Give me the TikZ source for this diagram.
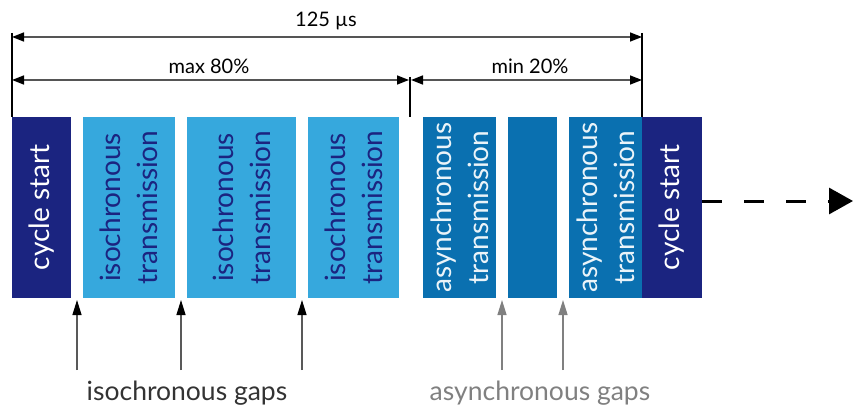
\documentclass[tikz,border=0pt]{standalone}
\usepackage{fontspec}
\setmainfont{Lato}
\usepackage{tikz}
\usetikzlibrary{arrows.meta, positioning}
\definecolor{navy}{RGB}{27,36,128}
\definecolor{isoblue}{RGB}{54,168,221}
\definecolor{asyblue}{RGB}{10,112,176}
\definecolor{dimgray}{RGB}{85,85,85}

\tikzset{
  slot/.style={rotate=90, inner sep=0pt, align=center, minimum width=181pt,
    font=\fontsize{28}{37}\selectfont},
  cyc/.style={slot, fill=navy, text=white},
  iso/.style={slot, fill=isoblue, text=navy},
  asy/.style={slot, fill=asyblue, text=white!92!asyblue},
  dim/.style={dimgray, line width=1.6pt, {Triangle[length=12pt,width=9pt,black]}-{Triangle[length=12pt,width=9pt,black]}},
  isogap/.style={black!65, line width=1.3pt, -{Triangle[length=15pt,width=9pt,black]}},
  asygap/.style={black!50, line width=1.3pt, -{Triangle[length=15pt,width=9pt]}}
}

\begin{document}
\begin{tikzpicture}[x=1pt,y=-1pt]
		\useasboundingbox (0,0) rectangle (853,409);
		
		% frame slots
		\node[cyc, minimum height=59pt] (cs1) at (41.5,207.5) {cycle start};
		\node[iso, minimum height=92pt] (iso1) at (129,207.5) {isochronous\\transmission};
		\node[iso, minimum height=109pt] (iso2) at (241.5,207.5) {isochronous\\transmission};
		\node[iso, minimum height=91pt] (iso3) at (353.5,207.5) {isochronous\\transmission};
		\node[asy, minimum height=73pt] (as1) at (459.5,207.5) {asynchronous\\transmission};
		\node[asy, minimum height=49pt] (as2) at (532.5,207.5) {};
		\node[asy, minimum height=73pt] (as3) at (605.5,207.5) {asynchronous\\transmission};
		\node[cyc, minimum height=60pt] (cs2) at (672,207.5) {cycle start};
		
		% dimension lines
		\draw[line width=1.3pt] (12,33) -- (12,117);
		\draw[line width=1.3pt] (642,33) -- (642,117);
		\draw[line width=1.3pt] (410,77) -- (410,117);
		\draw[dim] (12,37) -- (642,37);
		\draw[dim] (12,80) -- (409,80);
		\draw[dim] (411,80) -- (642,80);
		\node[font=\fontsize{20}{24}\selectfont] (period) at (326,21) {125 µs};
		\node[font=\fontsize{20}{24}\selectfont] (maxiso) at (209,66) {max 80\%};
		\node[font=\fontsize{20}{24}\selectfont] (minasy) at (530,66) {min 20\%};
		
		% next cycle
		\coordinate (next) at (853,201);
		\draw[line width=3pt, dash pattern=on 20pt off 22pt, -{Triangle[length=24pt,width=26pt]}] (cs2.south |- next) -- (next);
		
		% gaps
		\node[font=\fontsize{26.5}{30}\selectfont, text=black!80] (isogaps) at (187,393) {isochronous gaps};
		\node[font=\fontsize{26.5}{30}\selectfont, text=black!50] (asygaps) at (540,393) {asynchronous gaps};
		\foreach \x in {77,181,302}
			\draw[isogap] (\x,370) -- (\x,300);
		\foreach \x in {502,563}
			\draw[asygap] (\x,370) -- (\x,300);
\end{tikzpicture}
\end{document}
